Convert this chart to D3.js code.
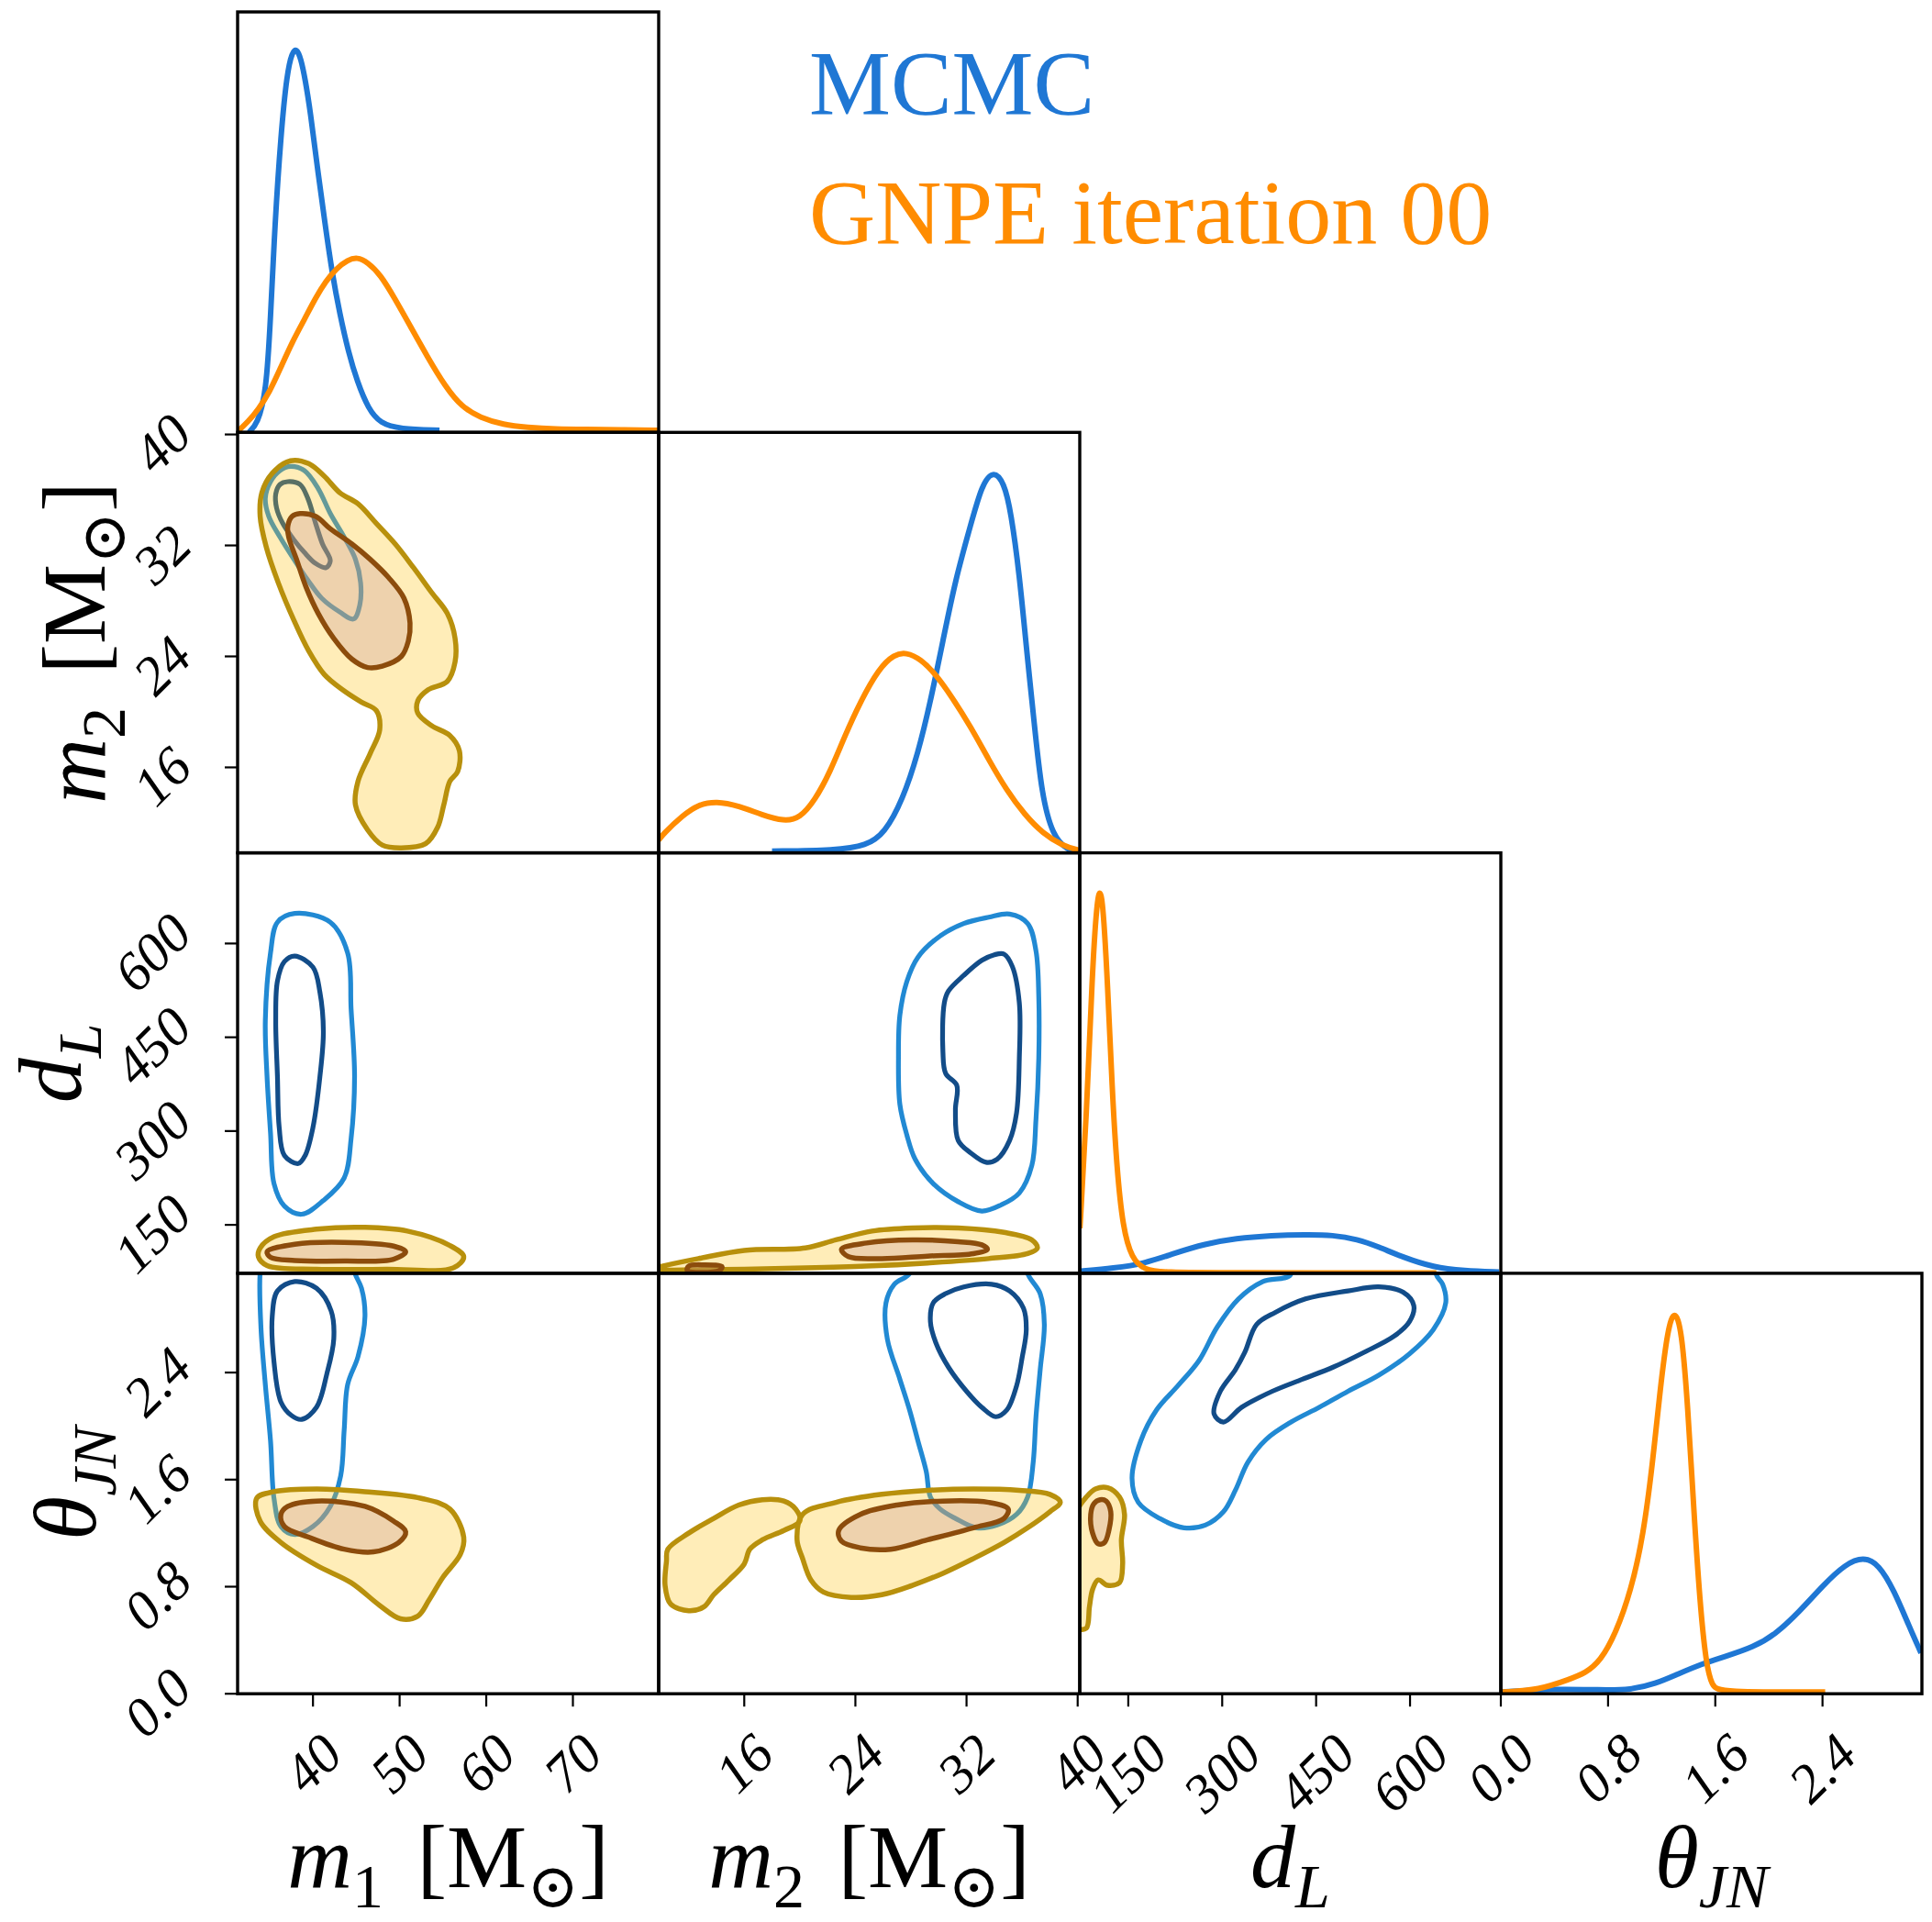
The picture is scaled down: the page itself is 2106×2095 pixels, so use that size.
<!DOCTYPE html>
<meta charset="utf-8">
<body style="margin:0;background:#fff">
<style>
  text { font-family: "Liberation Serif", "DejaVu Serif", serif; }
  .tick-label { font-size: 60px; font-style: italic; }
  .frame { fill: none; stroke: #000; stroke-width: 3.4px; }
  .kde { fill: none; stroke-width: 6px; stroke-linejoin: round; }
</style>
<svg width="2106" height="2095"></svg>
<script src="https://d3js.org/d3.v7.min.js"></script>
<script>

// ---- axes ----
var paramDomains = [[31.3, 79.9], [9.84, 40.15], [72.5, 745], [0, Math.PI]];
var paramTicks = [[40, 50, 60, 70], [16, 24, 32, 40], [150, 300, 450, 600], [0, 0.8, 1.6, 2.4]];
var tickFormats = ["d", "d", "d", ".1f"];

var legendLabels = ["MCMC", "GNPE iteration 00"];

// ---- 1D marginals: [value, density (fraction of panel height)] ----
var m1Mcmc = [[32.6,0],[33.6,0.02],[34.6,0.094],[35.1,0.27],[35.6,0.495],[36.3,0.71],[37.0,0.855],[37.6,0.905],[38.1,0.913],[38.6,0.89],[39.1,0.84],[39.7,0.763],[40.5,0.63],[41.4,0.495],[42.2,0.38],[43.1,0.281],[44.1,0.19],[45.1,0.121],[46.4,0.055],[47.8,0.021],[50,0.008],[54.6,0.005]];
var m1Gnpe = [[31.3,0.002],[32.5,0.025],[33.7,0.055],[34.95,0.094],[36.3,0.155],[37.6,0.215],[39.0,0.268],[40.3,0.32],[41.5,0.36],[42.7,0.39],[44.0,0.41],[45.1,0.417],[46.3,0.405],[47.8,0.375],[49.4,0.32],[51.2,0.254],[53.2,0.18],[55.3,0.108],[57.2,0.06],[59.3,0.035],[62,0.018],[64.7,0.012],[68,0.008],[71.5,0.007],[75.5,0.006],[79.9,0.005]];
var m2Mcmc = [[18.0,0.004],[22.6,0.006],[24.8,0.017],[26.1,0.046],[27.4,0.126],[28.5,0.235],[29.4,0.359],[30.3,0.504],[31.2,0.65],[32.3,0.78],[33.1,0.875],[33.9,0.91],[34.7,0.882],[35.2,0.81],[35.8,0.664],[36.3,0.49],[36.9,0.30],[37.4,0.141],[38.2,0.039],[39.3,0.006],[40.1,0.003]];
var m2Gnpe = [[9.84,0.03],[10.1,0.043],[11.6,0.09],[12.7,0.115],[14.0,0.123],[15.6,0.112],[17.3,0.09],[18.85,0.075],[20.0,0.082],[21.1,0.126],[22.15,0.19],[23.25,0.279],[24.35,0.359],[25.7,0.439],[26.8,0.472],[27.65,0.477],[28.7,0.461],[29.8,0.424],[30.9,0.373],[32.3,0.30],[33.6,0.221],[34.9,0.148],[36.2,0.09],[37.5,0.046],[38.9,0.017],[40.1,0.006]];
var dLMcmc = [[73.8,0.005],[126.7,0.012],[175.4,0.023],[224,0.048],[272.6,0.07],[321.3,0.083],[379.7,0.09],[433.1,0.092],[476.9,0.091],[515.8,0.081],[549.8,0.063],[588.8,0.038],[637.4,0.014],[686.1,0.006],[742,0.003]];
var dLGnpe = [[72.7,0.107],[82.9,0.361],[92.65,0.725],[99.95,0.885],[104.8,0.915],[109.7,0.878],[117.0,0.689],[124.3,0.434],[131.6,0.252],[141.3,0.107],[155.8,0.034],[175.4,0.008],[209,0.002],[300,0.001],[642,0.001]];
var thetaMcmc = [[0.0,0.004],[0.40,0.012],[0.74,0.009],[0.97,0.009],[1.155,0.024],[1.314,0.046],[1.497,0.071],[1.679,0.089],[1.884,0.111],[2.044,0.14],[2.227,0.195],[2.41,0.26],[2.569,0.308],[2.706,0.326],[2.82,0.308],[2.934,0.246],[3.048,0.159],[3.135,0.097]];
var thetaGnpe = [[0.014,0.004],[0.287,0.009],[0.515,0.035],[0.63,0.049],[0.744,0.078],[0.858,0.144],[0.972,0.246],[1.063,0.377],[1.131,0.544],[1.189,0.726],[1.246,0.87],[1.296,0.915],[1.348,0.87],[1.394,0.689],[1.44,0.435],[1.485,0.217],[1.531,0.071],[1.576,0.017],[1.634,0.004],[2.42,0.004]];

// ---- 2D credible contours (outer = 90%, inner = 50%), [x value, y value] ----
var m1m2McmcOuter = [[37.4,37.7],[39.0,37.4],[40.6,36.1],[42.0,34.3],[43.6,32.6],[44.9,31.0],[45.5,29.3],[45.4,27.7],[44.7,26.7],[43.1,27.2],[41.0,28.2],[39.4,29.5],[37.8,31.0],[36.2,32.6],[34.9,34.1],[34.5,35.4],[35.1,36.6],[36.2,37.4]];
var m1m2McmcInner = [[37.1,36.6],[38.5,36.4],[39.4,35.4],[40.3,33.6],[41.1,32.1],[42.0,30.9],[41.5,30.4],[40.3,30.7],[39.0,31.5],[37.8,32.4],[36.5,33.6],[35.8,34.7],[35.7,35.7],[36.2,36.4]];
var m1m2GnpeOuter = [[37.4,38.1],[39.5,37.9],[41.3,37.0],[43.1,35.8],[45.2,35.0],[47.3,33.6],[49.5,32.1],[51.6,30.4],[53.7,28.6],[55.5,27.1],[56.4,25.3],[56.4,23.6],[55.5,22.2],[53.3,21.6],[52.1,20.8],[52.1,19.9],[53.7,19.0],[55.8,18.3],[56.9,17.2],[56.7,15.7],[55.8,15.0],[55.1,13.3],[54.4,11.7],[53.0,10.5],[50.2,10.2],[48.0,10.4],[46.3,11.5],[44.9,13.3],[45.2,15.0],[46.6,17.0],[47.7,18.7],[47.3,20.1],[45.6,20.7],[43.4,21.6],[41.3,22.7],[39.5,24.4],[37.8,26.6],[36.0,29.3],[34.6,31.9],[33.9,34.1],[34.1,35.8],[35.3,37.2]];
var m1m2GnpeInner = [[38.5,34.3],[40.3,34.1],[42.0,33.2],[44.5,32.1],[46.6,31.0],[48.7,29.7],[50.5,28.2],[51.2,26.4],[51.0,25.1],[50.2,24.0],[48.0,23.3],[46.3,23.2],[44.5,23.8],[42.4,25.3],[40.6,27.1],[39.2,29.0],[38.1,31.0],[37.2,32.6],[37.1,33.4],[37.6,34.1]];

var m1dLMcmcOuter = [[37.9,648],[42.0,634],[44.0,585],[44.4,495],[44.8,387],[44.4,288],[43.6,225],[41.2,189],[38.7,167],[36.7,180],[35.5,216],[35.1,297],[34.7,387],[34.5,477],[35.1,585],[35.9,634]];
var m1dLMcmcInner = [[37.9,580],[40.0,562],[40.8,522],[41.2,459],[40.8,387],[40.0,306],[39.1,261],[38.3,248],[36.7,261],[36.1,306],[35.9,387],[35.7,477],[35.9,540],[36.7,571]];
var m1dLGnpeOuter = [[33.9,113],[35.5,131],[40.4,143],[46.0,146],[50.9,140],[55.8,117],[57.4,99],[56.2,81],[48.5,79],[40.4,79],[34.7,85],[33.7,99]];
var m1dLGnpeInner = [[34.7,107],[37.9,119],[43.6,122],[49.3,116],[50.7,107],[49.3,95],[43.6,92],[37.9,93],[35.1,98]];

var m2dLMcmcOuter = [[35.1,647],[36.4,632],[37.0,588],[37.2,514],[37.2,417],[37.0,319],[36.7,245],[35.8,201],[34.5,182],[33.1,172],[31.4,187],[29.6,216],[28.3,255],[27.7,294],[27.2,343],[27.1,417],[27.2,485],[27.7,539],[28.5,578],[30.1,612],[31.8,632],[33.6,642]];
var m2dLMcmcInner = [[34.7,583],[35.3,563],[35.8,505],[35.8,417],[35.6,329],[35.1,285],[34.2,255],[33.4,250],[32.3,265],[31.4,285],[31.2,334],[31.3,373],[30.5,392],[30.3,427],[30.4,505],[30.7,524],[31.8,549],[33.1,573],[34.0,582]];
var m2dLGnpeOuter = [[10.1,84],[12.7,96],[16.0,109],[20.4,113],[22.6,126],[25.2,140],[28.1,145],[31.4,145],[34.7,138],[36.7,126],[37.1,113],[36.4,104],[33.6,96],[29.2,89],[24.8,84],[20.4,81],[16.0,79],[11.6,78],[9.0,78]];
var m2dLGnpeInner = [[23.0,111],[24.8,121],[28.1,126],[31.4,123],[33.1,118],[33.5,111],[32.5,104],[29.2,100],[25.9,96],[23.5,99]];
var m2dLGnpeInner2 = [[12.0,84],[13.1,86],[14.4,83],[14.2,77],[11.9,77]];

var m1thMcmcOuter = [[33.9,3.15],[34.0,2.73],[34.5,2.31],[35.1,1.89],[35.5,1.46],[36.3,1.25],[37.9,1.19],[40.0,1.25],[42.0,1.40],[43.2,1.63],[43.6,1.97],[44.0,2.31],[45.2,2.52],[46.0,2.82],[45.6,3.03],[44.8,3.15],[44.4,3.35],[34.4,3.35]];
var m1thMcmcInner = [[37.9,3.08],[40.4,3.03],[42.1,2.86],[42.4,2.65],[41.6,2.39],[40.4,2.14],[38.7,2.05],[37.5,2.08],[36.3,2.18],[35.5,2.48],[35.3,2.82],[35.9,3.01]];
var m1thGnpeOuter = [[33.5,1.46],[35.5,1.51],[40.4,1.53],[46.0,1.51],[52.5,1.46],[55.8,1.38],[57.4,1.17],[57.0,1.04],[55.0,0.87],[53.4,0.70],[52.1,0.58],[50.1,0.56],[47.7,0.66],[44.4,0.83],[40.4,0.96],[36.3,1.13],[33.9,1.29]];
var m1thGnpeInner = [[37.1,1.40],[40.4,1.44],[46.0,1.40],[49.3,1.29],[50.7,1.21],[49.9,1.13],[47.0,1.06],[43.6,1.08],[39.5,1.17],[36.7,1.25],[36.3,1.34]];

var m2thMcmcOuter = [[27.9,3.14],[26.8,3.06],[26.2,2.92],[26.3,2.65],[27.2,2.35],[27.9,2.12],[28.5,1.89],[29.1,1.66],[29.4,1.47],[30.1,1.38],[31.2,1.31],[32.7,1.24],[34.2,1.26],[35.6,1.34],[36.4,1.47],[36.8,1.73],[37.0,2.07],[37.3,2.42],[37.6,2.76],[37.3,2.99],[36.4,3.14],[36.2,3.3],[28.1,3.3]];
var m2thMcmcInner = [[30.5,2.99],[31.8,3.04],[33.8,3.06],[35.1,3.01],[36.1,2.88],[36.3,2.72],[36.0,2.51],[35.6,2.30],[34.9,2.12],[34.1,2.07],[33.1,2.14],[32.0,2.26],[30.7,2.44],[29.8,2.62],[29.4,2.78],[29.6,2.92]];
var m2thGnpeOuterA = [[10.5,1.08],[12.0,1.20],[13.8,1.31],[15.6,1.41],[17.3,1.45],[18.85,1.44],[19.7,1.38],[20.0,1.29],[18.85,1.22],[17.3,1.15],[16.4,1.08],[16.0,0.97],[14.9,0.85],[13.8,0.74],[13.1,0.65],[12.0,0.62],[10.7,0.67],[10.3,0.81],[10.4,0.99]];
var m2thGnpeOuterB = [[20.2,1.34],[22.6,1.43],[25.9,1.49],[29.2,1.52],[32.5,1.53],[35.8,1.52],[38.0,1.49],[38.75,1.43],[38.0,1.36],[36.4,1.24],[34.7,1.13],[32.5,1.01],[30.3,0.90],[28.1,0.81],[25.9,0.74],[23.7,0.72],[21.7,0.76],[20.8,0.85],[20.2,1.01],[19.8,1.15]];
var m2thGnpeInner = [[22.8,1.22],[24.35,1.34],[27.0,1.41],[30.3,1.44],[33.6,1.43],[35.0,1.38],[34.7,1.31],[32.5,1.24],[29.2,1.15],[26.55,1.08],[24.35,1.09],[23.0,1.14]];

var dLthMcmcOuter = [[409,3.13],[365,3.08],[326,2.95],[292,2.74],[263,2.49],[229,2.30],[195,2.12],[170,1.89],[156,1.61],[166,1.43],[200,1.31],[239,1.24],[273,1.26],[302,1.36],[321,1.52],[341,1.73],[370,1.90],[410,2.03],[455,2.14],[501,2.26],[550,2.38],[599,2.54],[637,2.72],[657,2.92],[652,3.06],[642,3.13],[642,3.3],[409,3.3]];
var dLthMcmcInner = [[336,2.55],[355,2.76],[385,2.85],[433,2.95],[501,3.01],[550,3.04],[589,3.00],[606,2.90],[599,2.78],[574,2.67],[526,2.55],[477,2.44],[428,2.35],[380,2.26],[331,2.14],[302,2.03],[287,2.09],[297,2.26],[321,2.42]];
var dLthGnpeOuter = [[83,1.47],[97.5,1.53],[117,1.54],[136,1.47],[144,1.34],[139,1.15],[141,0.97],[136,0.83],[117,0.81],[102,0.85],[93,0.78],[88,0.65],[83,0.49],[70,0.49],[70,1.15],[70,1.38]];
var dLthGnpeInner = [[105,1.45],[114.5,1.44],[122,1.36],[119,1.22],[112,1.13],[102,1.12],[93,1.20],[90,1.34],[95,1.42]];

// ---- layout ----
var svg = d3.select("svg"),
    x0 = 259, y0 = 13, pw = 459, ph = 458.3, n = 4;

var blue = "#1f77d4", orange = "#ff8c00";

var xScales = paramDomains.map(function(d, j){
  return d3.scaleLinear().domain(d).range([x0 + j*pw, x0 + (j+1)*pw]);
});
var yScales = paramDomains.map(function(d, i){
  return d3.scaleLinear().domain(d).range([y0 + (i+1)*ph, y0 + i*ph]);
});
var densScales = d3.range(n).map(function(i){
  return d3.scaleLinear().domain([0, 1]).range([y0 + (i+1)*ph, y0 + i*ph]);
});

var defs = svg.append("defs");
for (var i = 0; i < n; i++) {
  for (var j = 0; j <= i; j++) {
    defs.append("clipPath").attr("id", "clip-" + i + "-" + j)
      .append("rect")
      .attr("x", x0 + j*pw).attr("y", y0 + i*ph)
      .attr("width", pw).attr("height", ph);
  }
}

// ---- diagonal marginals ----
var marginals = [
  {k: 0, mcmc: m1Mcmc, gnpe: m1Gnpe},
  {k: 1, mcmc: m2Mcmc, gnpe: m2Gnpe},
  {k: 2, mcmc: dLMcmc, gnpe: dLGnpe},
  {k: 3, mcmc: thetaMcmc, gnpe: thetaGnpe}
];

marginals.forEach(function(p){
  var g = svg.append("g").attr("clip-path", "url(#clip-" + p.k + "-" + p.k + ")");
  var line = d3.line()
      .x(function(d){ return xScales[p.k](d[0]); })
      .y(function(d){ return densScales[p.k](d[1]); })
      .curve(d3.curveBasis);
  g.append("path").attr("class", "kde").attr("stroke", blue).attr("d", line(p.mcmc));
  g.append("path").attr("class", "kde").attr("stroke", orange).attr("d", line(p.gnpe));
});

// ---- off-diagonal contours ----
var panels2d = [
  {row: 1, col: 0, mo: [m1m2McmcOuter], mi: [m1m2McmcInner], go: [m1m2GnpeOuter], gi: [m1m2GnpeInner]},
  {row: 2, col: 0, mo: [m1dLMcmcOuter], mi: [m1dLMcmcInner], go: [m1dLGnpeOuter], gi: [m1dLGnpeInner]},
  {row: 2, col: 1, mo: [m2dLMcmcOuter], mi: [m2dLMcmcInner], go: [m2dLGnpeOuter], gi: [m2dLGnpeInner, m2dLGnpeInner2]},
  {row: 3, col: 0, mo: [m1thMcmcOuter], mi: [m1thMcmcInner], go: [m1thGnpeOuter], gi: [m1thGnpeInner]},
  {row: 3, col: 1, mo: [m2thMcmcOuter], mi: [m2thMcmcInner], go: [m2thGnpeOuterA, m2thGnpeOuterB], gi: [m2thGnpeInner]},
  {row: 3, col: 2, mo: [dLthMcmcOuter], mi: [dLthMcmcInner], go: [dLthGnpeOuter], gi: [dLthGnpeInner]}
];

panels2d.forEach(function(p){
  var xs = xScales[p.col], ys = yScales[p.row];
  var ring = d3.line()
      .x(function(d){ return xs(d[0]); })
      .y(function(d){ return ys(d[1]); })
      .curve(d3.curveCatmullRomClosed.alpha(0.5));
  var g = svg.append("g").attr("clip-path", "url(#clip-" + p.row + "-" + p.col + ")");

  g.selectAll(".mo").data(p.mo).enter().append("path")
    .attr("d", ring).attr("fill", "none").attr("stroke", "#2189d3").attr("stroke-width", 5.2);
  g.selectAll(".mi").data(p.mi).enter().append("path")
    .attr("d", ring).attr("fill", "none").attr("stroke", "#124c88").attr("stroke-width", 5.2);
  g.selectAll(".go").data(p.go).enter().append("path")
    .attr("d", ring).attr("fill", "rgb(255,195,20)").attr("fill-opacity", 0.3)
    .attr("stroke", "#b8900c").attr("stroke-width", 5.5);
  g.selectAll(".gi").data(p.gi).enter().append("path")
    .attr("d", ring).attr("fill", "rgb(200,150,150)").attr("fill-opacity", 0.3)
    .attr("stroke", "#8c4c0c").attr("stroke-width", 5.5);
});

// ---- frames ----
for (var i = 0; i < n; i++) {
  for (var j = 0; j <= i; j++) {
    svg.append("rect").attr("class", "frame")
      .attr("x", x0 + j*pw).attr("y", y0 + i*ph)
      .attr("width", pw).attr("height", ph);
  }
}

// ---- ticks ----
var axisBottom = y0 + n*ph;
var tickLen = 14;

// x ticks on the bottom row
paramTicks.forEach(function(ticks, j){
  var fmt = d3.format(tickFormats[j]);
  ticks.forEach(function(t){
    var x = xScales[j](t);
    svg.append("line").attr("x1", x).attr("x2", x)
      .attr("y1", axisBottom).attr("y2", axisBottom + tickLen)
      .attr("stroke", "#000").attr("stroke-width", 2.2);
    var lab = svg.append("text").attr("class", "tick-label")
      .attr("text-anchor", "middle").attr("dominant-baseline", "central")
      .text(fmt(t));
    var w = lab.node().getComputedTextLength(), h = 42;
    var bb = (w + h) * Math.SQRT1_2;
    var cy = axisBottom + 40 + bb / 2;
    lab.attr("transform", "translate(" + x + "," + cy + ") rotate(-45)");
  });
});

// y ticks on the left column (rows 1..3)
for (var i = 1; i < n; i++) {
  var fmt = d3.format(tickFormats[i]);
  paramTicks[i].forEach(function(t){
    var y = yScales[i](t);
    svg.append("line").attr("x1", x0 - tickLen).attr("x2", x0)
      .attr("y1", y).attr("y2", y)
      .attr("stroke", "#000").attr("stroke-width", 2.2);
    var lab = svg.append("text").attr("class", "tick-label")
      .attr("text-anchor", "middle").attr("dominant-baseline", "central")
      .text(fmt(t));
    var w = lab.node().getComputedTextLength(), h = 42;
    var bb = (w + h) * Math.SQRT1_2;
    var cx = x0 - 46 - bb / 2;
    lab.attr("transform", "translate(" + cx + "," + (y + 10) + ") rotate(-45)");
  });
}

// ---- axis labels ----
var labelSize = 98, subSize = 68, subShift = 22;
function addLabel(g, parts){
  var t = g.append("text").attr("font-size", labelSize).attr("text-anchor", "middle");
  parts.forEach(function(p){
    var s = t.append("tspan").text(p.t);
    if (p.it) s.attr("font-style", "italic");
    if (p.sub) s.attr("font-size", subSize).attr("dy", subShift);
    if (p.up) s.attr("dy", -subShift);
    if (p.dx) s.attr("dx", p.dx);
  });
  return t;
}
var labelParts = [
  [{t: "m", it: 1}, {t: "1", sub: 1}, {t: " [M", up: 1, dx: 12}, {t: "\u2299", sub: 1}, {t: "]", up: 1}],
  [{t: "m", it: 1}, {t: "2", sub: 1}, {t: " [M", up: 1, dx: 12}, {t: "\u2299", sub: 1}, {t: "]", up: 1}],
  [{t: "d", it: 1}, {t: "L", it: 1, sub: 1}],
  [{t: "\u03b8", it: 1}, {t: "JN", it: 1, sub: 1}]
];

for (var j = 0; j < n; j++) {
  var g = svg.append("g")
    .attr("transform", "translate(" + (x0 + (j + 0.5)*pw) + ",2057)");
  addLabel(g, labelParts[j]);
}
var yLabelX = [0, 114, 88, 104];
for (var i = 1; i < n; i++) {
  var g = svg.append("g")
    .attr("transform", "translate(" + yLabelX[i] + "," + (y0 + (i + 0.5)*ph) + ") rotate(-90)");
  addLabel(g, labelParts[i]);
}

// ---- legend ----
svg.selectAll(".legend").data(legendLabels).enter().append("text")
  .attr("class", "legend")
  .attr("x", 882)
  .attr("y", function(d, i){ return 124 + i*141; })
  .attr("font-size", 100)
  .attr("fill", function(d, i){ return i ? orange : blue; })
  .text(function(d){ return d; });

</script>
</body>
